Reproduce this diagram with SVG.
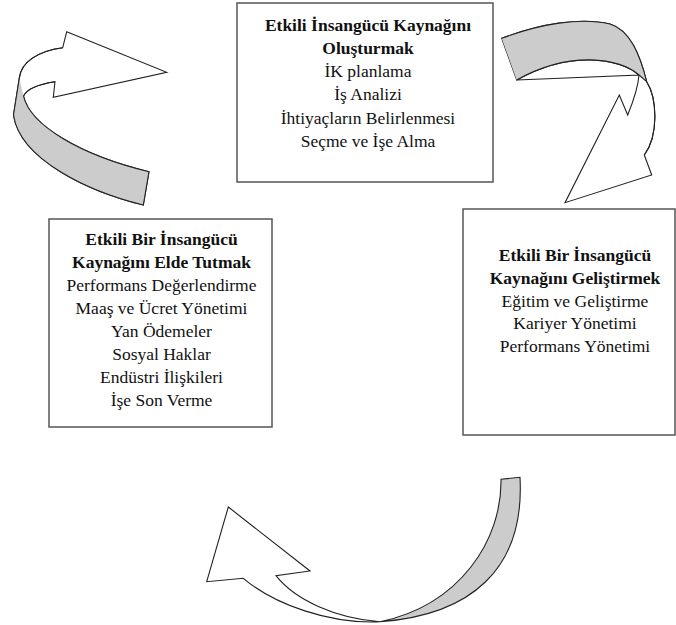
<svg xmlns="http://www.w3.org/2000/svg" width="676" height="625" viewBox="0 0 676 625">
<style>
.box{fill:#fff;stroke:#555;stroke-width:1.5}
.t{font-size:17.5px;fill:#111;text-anchor:middle}
.b{font-weight:bold}
.aw{fill:#fff;stroke:#222;stroke-width:1.1;stroke-linejoin:miter}
.ag{fill:#ccc;stroke:none}
.ao{fill:none;stroke:#222;stroke-width:1.1}
</style>
<rect width="676" height="625" fill="#fff"/>
<g id="connectors">
<g id="arrow-top-left">
<path class="aw" d="M62.7,47.7 L66.7,31.7 L166.7,72.3 L53.3,97.3 L55,81.7 C40,84 27,89 23.5,96 C30,125 80,155 149,171.7 L143.3,205 C90,192 20,160 13.5,115 L19.3,78 C21,62 38,51 62.7,47.7 Z"/>
<path class="ag" d="M19.3,78 L13.5,115 C20,160 90,192 143.3,205 L149,171.7 C80,155 30,125 23.5,96 Z"/>
<path class="ao" d="M55,81.7 C40,84 27,89 23.5,96 C30,125 80,155 149,171.7 L143.3,205 C90,192 20,160 13.5,115 L19.3,78 C21,62 38,51 62.7,47.7"/>
</g>
<g id="arrow-top-right">
<path class="aw" d="M501.7,38.3 C540,24 580,17 610,24 C630,30 640,55 646.7,81.7 C657,98 659,135 644.3,155 L651.7,175 L565,202.7 L619.3,95 L627.7,115 C633,102 638,88 639,75 C620,58 570,50 516.7,80 Z"/>
<path class="ag" d="M501.7,38.3 C540,24 580,17 610,24 C630,30 640,55 646.7,81.7 L639,75 C620,58 570,50 516.7,80 Z"/>
<path class="ao" d="M501.7,38.3 C540,24 580,17 610,24 C630,30 640,55 646.7,81.7 C657,98 659,135 644.3,155 M639,75 C620,58 570,50 516.7,80 Z M639,75 L646.7,81.7"/>
</g>
<g id="arrow-bottom">
<path class="ag" d="M501,479.3 L520,477.3 C525,570 470,615 380,621.8 C460,605 502,540 501,479.3 Z"/>
<path class="aw" d="M380,621.8 C330,624 275,605 243.3,578.3 L206.7,581.7 L228.3,507 L310,571 L276,575.7 C295,600 335,618 380,621.8 Z"/>
<path class="ao" d="M501,479.3 L520,477.3 C525,570 470,615 380,621.8 C460,605 502,540 501,479.3 Z"/>
</g>
</g>
<g id="node-top" font-family="Liberation Serif, serif">
<rect class="box" x="237" y="3" width="256" height="179"/>
<text class="t b" x="368" y="31">Etkili İnsangücü Kaynağını</text>
<text class="t b" x="368" y="54">Oluşturmak</text>
<text class="t" x="368" y="77">İK planlama</text>
<text class="t" x="368" y="100">İş Analizi</text>
<text class="t" x="368" y="124">İhtiyaçların Belirlenmesi</text>
<text class="t" x="368" y="147">Seçme ve İşe Alma</text>
</g>
<g id="node-left" font-family="Liberation Serif, serif">
<rect class="box" x="49" y="219" width="223" height="208"/>
<text class="t b" x="161.5" y="245">Etkili Bir İnsangücü</text>
<text class="t b" x="161.5" y="268">Kaynağını Elde Tutmak</text>
<text class="t" x="161.5" y="291">Performans Değerlendirme</text>
<text class="t" x="161.5" y="314">Maaş ve Ücret Yönetimi</text>
<text class="t" x="161.5" y="337">Yan Ödemeler</text>
<text class="t" x="161.5" y="360">Sosyal Haklar</text>
<text class="t" x="161.5" y="383">Endüstri İlişkileri</text>
<text class="t" x="161.5" y="406">İşe Son Verme</text>
</g>
<g id="node-right" font-family="Liberation Serif, serif">
<rect class="box" x="463" y="209" width="212" height="226"/>
<text class="t b" x="575" y="261">Etkili Bir İnsangücü</text>
<text class="t b" x="575" y="284">Kaynağını Geliştirmek</text>
<text class="t" x="575" y="307">Eğitim ve Geliştirme</text>
<text class="t" x="575" y="329">Kariyer Yönetimi</text>
<text class="t" x="575" y="352">Performans Yönetimi</text>
</g>
</svg>
